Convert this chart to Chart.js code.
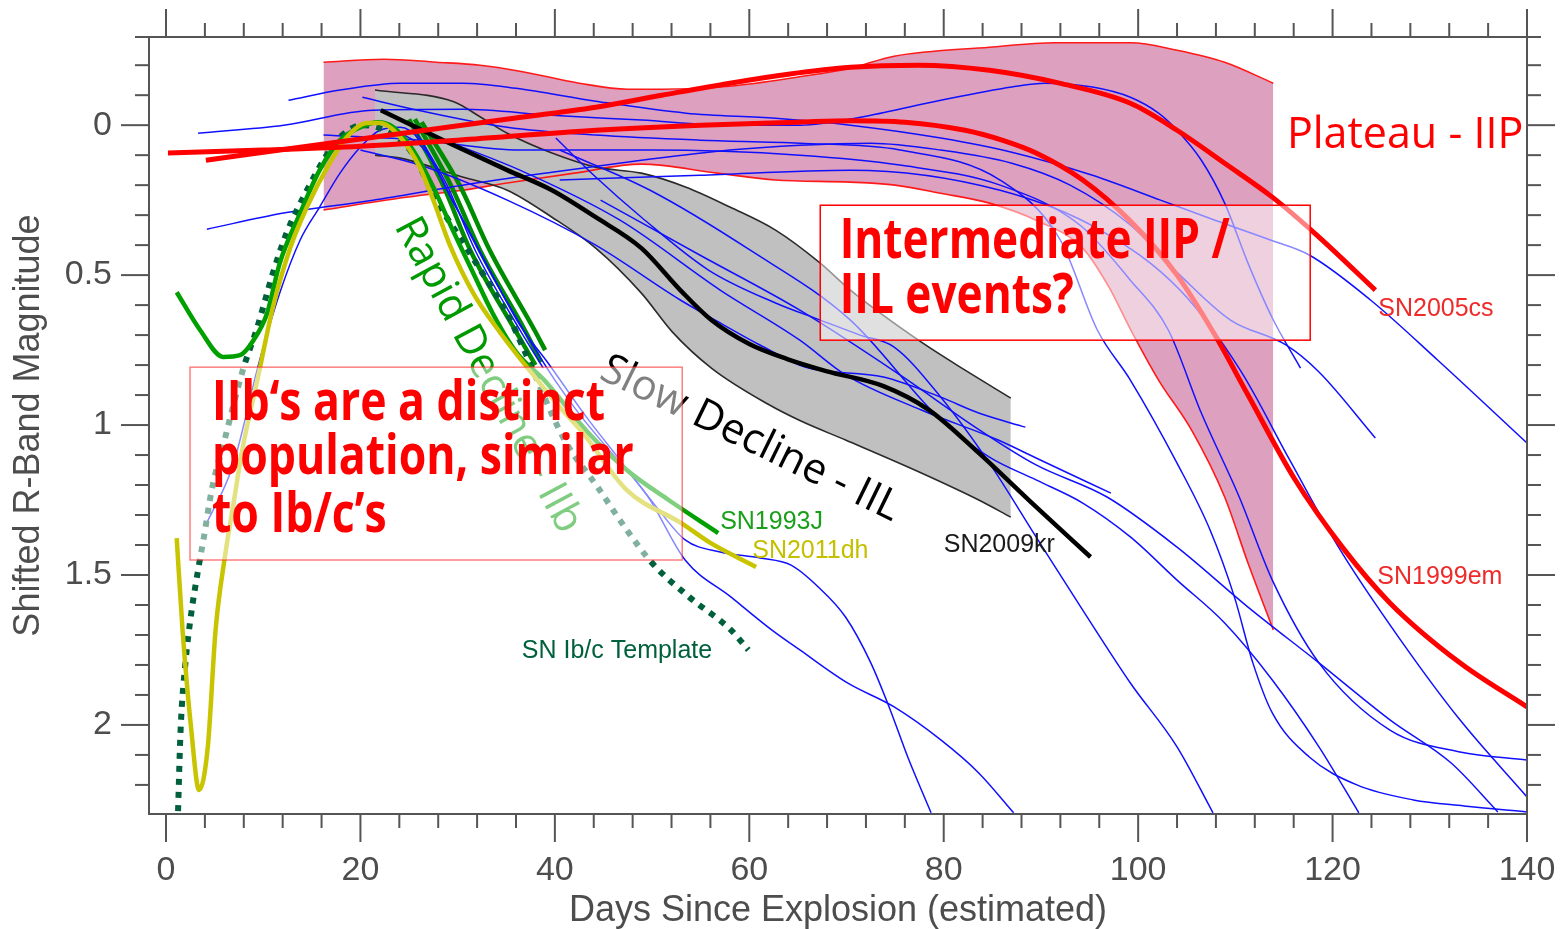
<!DOCTYPE html>
<html>
<head>
<meta charset="utf-8">
<script src="https://cdn.jsdelivr.net/npm/chart.js@4.4.1/dist/chart.umd.min.js"></script>
<style>
html,body{margin:0;padding:0;background:#fff;}
canvas{display:block;}
</style>
</head>
<body>
<canvas id="c" width="1564" height="929"></canvas>
<script>
// ---------- tick labels ----------
const xTicks = [0, 20, 40, 60, 80, 100, 120, 140];
const yTicks = [0, 0.5, 1, 1.5, 2];
const xMinorStep = 4;
const yMinorStep = 0.1;

// ---------- bands ----------
const plateauUpper = [[16.2,-0.21],[22.4,-0.22],[27.8,-0.21],[32.3,-0.2],[36.4,-0.18],[42.5,-0.14],[47.5,-0.12],[51.1,-0.12],[58.0,-0.13],[64.9,-0.16],[70.4,-0.19],[74.9,-0.23],[84.7,-0.26],[91.5,-0.275],[99.2,-0.275],[104.0,-0.25],[108.9,-0.21],[113.9,-0.14]];
const plateauLower = [[16.2,0.283],[24.1,0.243],[30.5,0.217],[35.1,0.193],[42.0,0.16],[48.9,0.13],[56.7,0.16],[62.7,0.183],[70.4,0.19],[75.0,0.2],[79.7,0.227],[84.7,0.26],[89.5,0.317],[94.3,0.41],[97.0,0.54],[99.2,0.68],[102.1,0.85],[105.5,1.017],[108.9,1.24],[111.3,1.46],[113.9,1.683]];
const slowUpper = [[21.5,-0.117],[29.6,-0.078],[32.3,-0.028],[35.1,0.027],[39.7,0.093],[44.2,0.14],[48.9,0.16],[53.5,0.207],[58.0,0.273],[62.7,0.35],[67.3,0.46],[70.4,0.55],[77.4,0.717],[82.2,0.817],[86.9,0.91]];
const slowLower = [[21.5,0.1],[24.1,0.11],[30.5,0.173],[35.1,0.217],[39.7,0.307],[44.2,0.41],[48.9,0.56],[52.1,0.69],[56.1,0.81],[61.9,0.93],[65.2,0.985],[69.9,1.05],[77.7,1.16],[83.6,1.25],[86.9,1.307]];

// ---------- named supernovae ----------
const sn1999em = [[0.2,0.093],[10,0.083],[20,0.07],[30,0.05],[44.2,0.017],[55,0.0],[65,-0.01],[70.4,-0.015],[76,-0.01],[82.2,0.017],[86,0.05],[89.5,0.093],[94.3,0.183],[99.2,0.32],[104,0.5],[107.9,0.7],[111.3,0.9],[116.1,1.18],[121.0,1.407],[125.9,1.593],[133.1,1.793],[140,1.94]];
const sn2005cs = [[4.1,0.117],[16.8,0.06],[25.9,0.02],[35,-0.02],[44.2,-0.06],[51,-0.1],[58,-0.14],[64,-0.17],[70.4,-0.193],[77.4,-0.2],[84.7,-0.183],[91.9,-0.14],[99.2,-0.073],[104,0.017],[108.9,0.127],[113.8,0.24],[118.6,0.373],[124.4,0.55]];
const sn2009kr = [[22.1,-0.05],[29.6,0.067],[35.1,0.15],[39.7,0.217],[44.2,0.307],[48.9,0.41],[52.9,0.55],[56.1,0.65],[60,0.73],[63.9,0.78],[67.9,0.82],[73.8,0.87],[78.5,0.95],[83.6,1.093],[89.5,1.273],[95.1,1.44]];
const sn1993J = [[1.1,0.557],[3.5,0.683],[5.9,0.773],[7.6,0.767],[9.0,0.717],[10.4,0.627],[11.7,0.46],[13.8,0.293],[15.8,0.15],[17.9,0.05],[20.0,0.007],[21.8,-0.01],[23.4,0.007],[25.4,0.083],[27.5,0.207],[29.5,0.35],[31.6,0.493],[33.6,0.627],[36.1,0.76],[38.9,0.85],[43.2,1.017],[47.4,1.15],[51.7,1.25],[56.8,1.36]];
const sn2011dh = [[1.1,1.377],[1.7,1.683],[2.6,2.017],[3.4,2.217],[4.3,2.073],[5.1,1.683],[6.1,1.43],[7.0,1.25],[7.9,1.073],[9.4,0.85],[11.0,0.607],[12.8,0.407],[14.5,0.273],[16.6,0.14],[18.6,0.04],[20.7,-0.007],[22.0,-0.007],[24.1,0.04],[26.1,0.14],[27.5,0.25],[29.2,0.4],[31.6,0.56],[34.4,0.693],[38.2,0.85],[40.5,0.94],[42.9,1.027],[47.4,1.217],[53.0,1.327],[56.0,1.393],[60.7,1.473]];
const ibcTemplate = [[1.2,2.33],[1.5,2.017],[2.0,1.793],[2.6,1.627],[3.3,1.483],[3.9,1.373],[4.7,1.217],[6.1,1.04],[7.9,0.817],[9.4,0.673],[11.0,0.493],[12.4,0.36],[14.5,0.217],[16.2,0.117],[17.9,0.04],[20.2,0.0],[22.5,0.017],[25.1,0.083],[28.2,0.273],[30.2,0.373],[33.0,0.517],[35.1,0.627],[36.7,0.74],[41.0,1.05],[44.4,1.207],[47.4,1.35],[50.0,1.46],[53.8,1.573],[58.1,1.683],[59.9,1.75]];

// ---------- rapid-decline IIb group ----------
const iibA = [[25.0,-0.02],[28.5,0.2],[31.3,0.417],[35.9,0.683],[38.0,0.8]];
const iibB = [[25.6,-0.02],[29.3,0.2],[32.3,0.417],[36.9,0.683],[38.6,0.79]];
const iibC = [[26.3,-0.01],[30.2,0.2],[33.3,0.417],[37.9,0.683],[39.0,0.75]];

// ---------- other type II events ----------
const snA = [[12.6,-0.083],[17.9,-0.117],[24.1,-0.14],[30.5,-0.14],[36.0,-0.123],[44.2,-0.08],[53.5,-0.04],[62.7,-0.023],[70.4,0.0],[79.7,0.043],[87.0,0.09],[95.3,0.167],[102.3,0.25],[107.9,0.317],[113.6,0.383],[117.6,0.433],[123.9,0.583],[130.8,0.783],[140,1.06]];
const snB = [[3.3,0.027],[12.1,0.0],[21.3,-0.05],[30.5,-0.053],[39.7,-0.033],[48.9,-0.017],[58.0,0.0],[65.2,0.0],[72.0,-0.03],[79.7,-0.083],[87.0,-0.127],[90.4,-0.14],[95.3,-0.127],[99.2,-0.093],[102.1,-0.04],[104.0,0.017],[106.5,0.117],[108.9,0.26],[111.3,0.46],[113.8,0.643],[116.7,0.81]];
const snC = [[4.2,0.347],[12.1,0.293],[21.3,0.25],[30.5,0.2],[39.7,0.157],[48.9,0.117],[58.0,0.083],[65.2,0.067],[72.5,0.06],[79.7,0.083],[87.0,0.127],[93.0,0.2],[99.2,0.333],[104.3,0.5],[109.5,0.65],[115.2,0.733],[118.6,0.823],[124.4,1.043]];
const snD = [[20.2,-0.093],[25.9,-0.05],[35.1,0.007],[44.2,0.033],[54.9,0.05],[65.2,0.06],[75.5,0.083],[85.8,0.183],[92.0,0.383],[95.8,0.683],[99.2,0.85],[104.0,1.127],[107.4,1.35],[109.9,1.573],[111.8,1.793],[113.8,1.96],[117.6,2.107],[122.5,2.2],[128.3,2.25],[133.5,2.27],[140,2.29]];
const snE = [[16.2,0.033],[26.1,0.05],[36.4,0.083],[49.8,0.083],[65.2,0.1],[75.5,0.133],[85.8,0.2],[94.0,0.333],[99.2,0.517],[103.1,0.683],[106.5,0.96],[110.4,1.24],[113.8,1.517],[118.6,1.793],[125.9,2.017],[133.1,2.09],[140,2.117]];
const snF = [[40.5,0.183],[54.9,0.167],[70.4,0.15],[85.8,0.217],[96.1,0.35],[104.3,0.55],[110.5,0.817],[115.6,1.117],[120.8,1.417],[127.0,1.717],[133.1,1.983],[140,2.24]];
const snG = [[40.1,0.043],[44.2,0.173],[48.9,0.307],[55.8,0.483],[62.7,0.593],[67.3,0.65],[71.4,0.7],[74.9,0.74],[79.7,0.907],[84.7,1.127],[89.5,1.373],[94.3,1.617],[99.2,1.86],[104.0,2.073],[107.7,2.293]];
const snH = [[20.0,0.083],[26.1,0.133],[35.1,0.25],[44.2,0.4],[52.9,0.583],[56.5,0.65],[61.1,0.733],[65.8,0.807],[73.8,0.84],[79.7,0.907],[83.6,0.96],[88.4,1.007]];
const snI = [[27.2,0.033],[36.4,0.15],[46.7,0.317],[57.0,0.55],[65.2,0.717],[69.9,0.833],[77.7,0.95],[85.6,1.05],[89.5,1.11],[97.2,1.227]];
const snJ = [[40.5,0.083],[49.8,0.217],[60.1,0.417],[70.4,0.65],[79.7,0.983],[84.7,1.107],[89.5,1.183],[94.3,1.26],[99.2,1.373],[104.0,1.517],[108.9,1.66],[113.8,1.85],[118.6,2.073],[122.7,2.293]];
const snK = [[44.7,0.25],[54.9,0.433],[65.2,0.617],[75.5,0.833],[83.7,1.017],[89.5,1.133],[96.8,1.24],[104.0,1.407],[111.3,1.607],[118.6,1.793],[125.9,1.983],[132.2,2.127],[137.0,2.29]];
const snL = [[4.1,1.333],[6.9,1.133],[9.5,0.8],[11.7,0.56],[13.8,0.383],[15.8,0.273],[17.9,0.16],[20.0,0.073],[22.0,0.017],[24.1,0.007],[26.1,0.05],[29.2,0.233],[33.3,0.483],[36.4,0.667],[39.3,0.793],[43.1,0.967],[46.7,1.117],[50.3,1.267],[53.4,1.383],[57.0,1.423],[61.1,1.443],[64.3,1.467],[67.1,1.54],[69.9,1.64],[72.5,1.793],[74.5,1.95],[76.3,2.107],[78.7,2.293]];
const snM = [[23.6,0.017],[26.6,0.083],[29.7,0.267],[33.8,0.517],[37.4,0.717],[40.0,0.85],[42.6,0.967],[45.3,1.073],[49.6,1.24],[53.4,1.45],[58.1,1.573],[62.3,1.683],[65.2,1.75],[70.1,1.86],[74.9,1.94],[79.7,2.05],[83.6,2.16],[87.2,2.293]];
const snN = [[25.3,0.0],[28.9,0.2],[31.8,0.417],[36.4,0.683],[38.8,0.81]];
const otherEvents = [snA, snB, snC, snD, snE, snF, snG, snH, snI, snJ, snK, snL, snM, snN];

// ---------- build chart ----------
function ln(data, color, width, order, extra) {
  return Object.assign({
    data: data.map(p => ({x: p[0], y: p[1]})),
    borderColor: color, backgroundColor: color, borderWidth: width,
    pointRadius: 0, pointHoverRadius: 0, fill: false,
    cubicInterpolationMode: 'monotone', order: order
  }, extra || {});
}

const datasets = [
  ln(plateauUpper, '#ff1a1a', 1.6, 100),
  ln(plateauLower, '#ff1a1a', 1.6, 99, {fill: '-1', backgroundColor: 'rgb(222,160,191)'}),
  ln(slowUpper, '#2a2a2a', 1.6, 90),
  ln(slowLower, '#2a2a2a', 1.6, 89, {fill: '-1', backgroundColor: '#c0c0c0'}),
];
[iibA, iibB, iibC].forEach(s => datasets.push(ln(s, '#008c00', 4.5, 60)));
otherEvents.forEach(s => datasets.push(ln(s, '#1010ff', 1.5, 50)));
datasets.push(ln(ibcTemplate, '#00603c', 6, 35, {borderDash: [6, 7], borderCapStyle: 'butt'}));
datasets.push(ln(sn1993J, '#00a000', 4.5, 30));
datasets.push(ln(sn2011dh, '#c8c400', 4.5, 29));
datasets.push(ln(sn2009kr, '#000000', 4.5, 20));
datasets.push(ln(sn1999em, '#ff0000', 5, 10));
datasets.push(ln(sn2005cs, '#ff0000', 5, 9));

const axisColor = '#555555';
const labelColor = '#4d4d4d';

const annotations = {
  id: 'annotations',
  afterDatasetsDraw(chart) {
    const {ctx, scales: {x, y}, chartArea: ca} = chart;
    const px = v => x.getPixelForValue(v);
    const py = v => y.getPixelForValue(v);
    ctx.save();
    ctx.beginPath(); ctx.rect(ca.left, ca.top, ca.right - ca.left, ca.bottom - ca.top); ctx.clip();

    function rot(text, dx, dy, deg, color, font) {
      ctx.save();
      ctx.translate(px(dx), py(dy));
      ctx.rotate(deg * Math.PI / 180);
      ctx.font = font; ctx.fillStyle = color;
      ctx.textAlign = 'left'; ctx.textBaseline = 'alphabetic';
      ctx.fillText(text, 0, 0);
      ctx.restore();
    }
    rot('Rapid Decline - IIb', 23.46, 0.337, 61.7, '#009900', '42px "Open Sans"');
    rot('Slow Decline - IIL', 44.4, 0.843, 26, '#000000', '42px "Open Sans"');

    function lab(text, dx, dy, color) {
      ctx.font = '25px "Liberation Sans", Arial, sans-serif';
      ctx.fillStyle = color; ctx.textAlign = 'left'; ctx.textBaseline = 'middle';
      ctx.fillText(text, px(dx), py(dy));
    }
    lab('SN1993J', 57.0, 1.323, '#1a9f1a');
    lab('SN2011dh', 60.3, 1.42, '#c4c000');
    lab('SN2009kr', 80.0, 1.40, '#1a1a1a');
    lab('SN Ib/c Template', 36.6, 1.753, '#00603c');
    lab('SN2005cs', 124.7, 0.613, '#ee2a2a');
    lab('SN1999em', 124.6, 1.507, '#ee2a2a');

    ctx.font = '43px "Open Sans"';
    ctx.fillStyle = '#ff0000'; ctx.textAlign = 'left'; ctx.textBaseline = 'alphabetic';
    ctx.fillText('Plateau - IIP', px(115.3), py(0.077));

    function box(x0, x1, y0, y1, border) {
      const L = px(x0), R = px(x1), T = py(y0), B = py(y1);
      ctx.fillStyle = 'rgba(255,255,255,0.5)';
      ctx.fillRect(L, T, R - L, B - T);
      ctx.strokeStyle = border; ctx.lineWidth = 1.5;
      ctx.strokeRect(L, T, R - L, B - T);
    }
    function boxText(lines, dx, dys, targetWidth) {
      ctx.font = 'bold 56px "Open Sans"';
      ctx.fillStyle = '#ff0000'; ctx.textAlign = 'left'; ctx.textBaseline = 'alphabetic';
      const sx = targetWidth / ctx.measureText(lines[0]).width;
      lines.forEach((t, i) => {
        ctx.save();
        ctx.translate(px(dx), py(dys[i]));
        ctx.scale(sx, 1);
        ctx.fillText(t, 0, 0);
        ctx.restore();
      });
    }
    box(2.47, 53.1, 0.807, 1.45, 'rgba(255,40,40,0.6)');
    boxText(['IIb\u2018s are a distinct', 'population, similar', 'to Ib/c\u2019s'], 4.73, [0.983, 1.163, 1.357], 393);
    box(67.3, 117.7, 0.267, 0.717, '#ff0000');
    boxText(['Intermediate IIP /', 'IIL events?'], 69.3, [0.443, 0.627], 390);
    ctx.restore();
  }
};

const frame = {
  id: 'frame',
  afterDraw(chart) {
    const {ctx, chartArea: {left, right, top, bottom}, scales: {x, y}} = chart;
    ctx.save();
    ctx.strokeStyle = axisColor; ctx.lineWidth = 2;
    ctx.strokeRect(left, top, right - left, bottom - top);
    const seg = (a, b, c, d) => { ctx.beginPath(); ctx.moveTo(a, b); ctx.lineTo(c, d); ctx.stroke(); };
    for (let v = 0; v <= x.max + 1e-9; v += xMinorStep) {
      const p = x.getPixelForValue(v);
      const major = xTicks.includes(v);
      const L = major ? 28 : 14;
      seg(p, bottom, p, bottom + L);
      seg(p, top, p, top - L);
    }
    for (let i = Math.round(y.min / yMinorStep); i * yMinorStep <= y.max + 1e-9; i++) {
      const v = Math.round(i * yMinorStep * 1000) / 1000;
      const p = Math.max(top, y.getPixelForValue(v));
      const major = yTicks.includes(v);
      const L = major ? 28 : 14;
      seg(left, p, left - L, p);
      seg(right, p, right + L, p);
    }
    ctx.restore();
  }
};

const noPadX = s => { s.height = 115; s.paddingLeft = 0; s.paddingRight = 0; s.paddingTop = 0; s.paddingBottom = 0; };
const noPadY = s => { s.width = 149; s.paddingLeft = 0; s.paddingRight = 0; s.paddingTop = 0; s.paddingBottom = 0; };
const axisFont = '"Liberation Sans", Arial, sans-serif';

new Chart(document.getElementById('c'), {
  type: 'line',
  data: {datasets},
  options: {
    responsive: false, animation: false, devicePixelRatio: 1, events: [],
    layout: {padding: {top: 37, right: 37, left: 0, bottom: 0}},
    plugins: {legend: {display: false}, tooltip: {enabled: false}, filler: {propagate: false, drawTime: 'beforeDatasetsDraw'}},
    scales: {
      x: {
        type: 'linear', min: -1.75, max: 140,
        afterBuildTicks: s => { s.ticks = xTicks.map(v => ({value: v})); },
        afterFit: noPadX,
        grid: {display: false, drawTicks: false}, border: {display: false},
        ticks: {padding: 36, autoSkip: false, maxRotation: 0, color: labelColor,
          font: {family: axisFont, size: 34}, callback: v => String(v)},
        title: {display: true, text: 'Days Since Explosion (estimated)', color: labelColor,
          font: {family: axisFont, size: 36, lineHeight: 1}, padding: {top: 0, bottom: 0}}
      },
      y: {
        type: 'linear', reverse: true, min: -0.294, max: 2.297,
        afterBuildTicks: s => { s.ticks = yTicks.map(v => ({value: v})); },
        afterFit: noPadY,
        grid: {display: false, drawTicks: false}, border: {display: false},
        ticks: {padding: 37, autoSkip: false, color: labelColor,
          font: {family: axisFont, size: 34}, callback: v => String(v)},
        title: {display: true, text: 'Shifted R-Band Magnitude', color: labelColor,
          font: {family: axisFont, size: 36, lineHeight: 1}, padding: {top: 11, bottom: 0}}
      }
    }
  },
  plugins: [annotations, frame]
});
</script>
</body>
</html>
